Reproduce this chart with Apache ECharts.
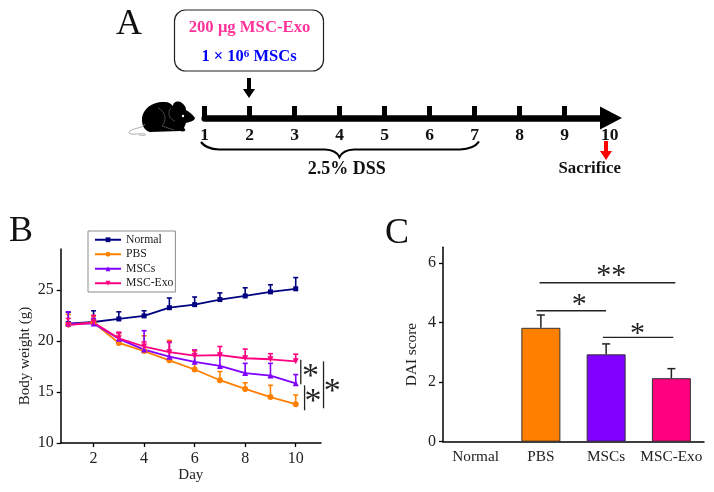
<!DOCTYPE html>
<html>
<head>
<meta charset="utf-8">
<style>
  html, body { margin: 0; padding: 0; background: #fff; }
  #chart { width: 714px; height: 492px; }
</style>
</head>
<body>
<div id="chart"></div>
<script src="https://cdn.jsdelivr.net/npm/echarts@6/dist/echarts.min.js"></script>
<script>
var serif = '"Liberation Serif", "Times New Roman", serif';

// panel A, timeline
var timelineDays = [1, 2, 3, 4, 5, 6, 7, 8, 9, 10];
var timelineTicks = [1, 2, 3, 4, 5, 6, 7, 8, 9];

// panel B, body weight
var days = [1, 2, 3, 4, 5, 6, 7, 8, 9, 10];
var groupNames = ['Normal', 'PBS', 'MSCs', 'MSC-Exo'];
var normalWeight = [21.7, 21.85, 22.15, 22.45, 23.25, 23.55, 24.05, 24.4, 24.8, 25.1];
var normalTop = [22.8, 22.95, 22.85, 22.95, 24.2, 24.3, 24.7, 25.2, 25.5, 26.2];
var pbsWeight = [21.6, 21.8, 19.8, 19.0, 18.1, 17.2, 16.15, 15.3, 14.5, 13.8];
var pbsTop = [22.6, 22.4, 20.7, 20.5, 20.05, 19.0, 17.0, 15.9, 15.65, 14.7];
var mscWeight = [21.7, 21.7, 20.2, 19.15, 18.45, 17.95, 17.55, 16.85, 16.6, 15.85];
var mscTop = [22.85, 22.2, 20.8, 21.0, 19.85, 19.1, 18.6, 17.8, 17.8, 16.7];
var exoWeight = [21.55, 21.8, 20.25, 19.45, 18.9, 18.55, 18.6, 18.3, 18.2, 18.0];
var exoTop = [22.2, 22.5, 20.85, 19.9, 19.9, 19.1, 19.45, 19.2, 18.75, 18.7];
var weightTicks = [10, 15, 20, 25];
var dayTicks = [2, 4, 6, 8, 10];

// significance marks of panel B, [x, y1, y2] and [x, y]
var weightBars = [[10.2, 18.15, 15.75], [10.35, 15.65, 13.2], [11.1, 18.0, 13.4]];
var weightStars = [[10.58, 18.1], [10.68, 15.7], [11.45, 16.7]];

// panel C, DAI score
var scoreGroups = ['Normal', 'PBS', 'MSCs', 'MSC-Exo'];
var scoreValues = [0, 3.82, 2.93, 2.13];
var scoreTop = [0, 4.25, 3.28, 2.45];
var scoreColors = ['#ffffff', '#ff8000', '#8000ff', '#ff0080'];
var scoreTicks = [0, 2, 4, 6];

// significance marks of panel C, [x1, x2, y] and [x, y, text]
var scoreBars = [[0.98, 3.06, 5.33], [0.93, 2.0, 4.39], [1.95, 3.03, 3.5]];
var scoreStars = [[2.08, 6.05, '**'], [1.59, 5.1, '*'], [2.48, 4.12, '*']];

// outlines of panel A that are no data, in page pixels
var mousePaths = [
  { d: 'M142 120 C142 108 154 101 165 102 C169 102 171 104 173 106 C173 102 178 100 182 103 C185 105 186 108 186 110 C190 112 193 115 195 118 C195 120 191 122 186 123 L184 128 C187 131 184 132 180 131 L150 132 C145 131 142 126 142 120 Z', fill: '#000' },
  { d: 'M171 108 C167 112 169 119 175 121 M158 108 C166 112 167 120 162 126 C166 127 170 129 174 130', stroke: '#777', width: 0.6 },
  { d: 'M145 124 C142 129 131 128 129 132 C128 136 140 133 145 134 C147 135 144 136 139 135', stroke: '#999', width: 0.8 }
];
var bracePath = 'M201 142 Q206 149 219 149.5 L325 149.5 Q336 150 339.5 157 Q343 150 354 149.5 L460 149.5 Q474 149 479 141.5';

function errorSeries(name, color, values, tops) {
  return {
    name: name + ' error',
    type: 'custom',
    xAxisIndex: 1,
    yAxisIndex: 1,
    z: 1,
    data: days.map(function(d, i) { return [d, values[i], tops[i]]; }),
    renderItem: function(params, api) {
      var low = api.coord([api.value(0), api.value(1)]);
      var high = api.coord([api.value(0), api.value(2)]);
      var style = { stroke: color, lineWidth: 1.6, fill: 'none' };
      return {
        type: 'group',
        children: [
          { type: 'line', shape: { x1: low[0], y1: low[1], x2: high[0], y2: high[1] }, style: style },
          { type: 'line', shape: { x1: high[0] - 2.5, y1: high[1], x2: high[0] + 2.5, y2: high[1] }, style: style }
        ]
      };
    }
  };
}

function lineSeries(name, color, symbol, values, size) {
  return {
    name: name,
    type: 'line',
    xAxisIndex: 1,
    yAxisIndex: 1,
    z: 3,
    color: color,
    symbol: symbol,
    symbolSize: size,
    symbolRotate: name === 'MSC-Exo' ? 180 : 0,
    lineStyle: { width: 1.8, color: color },
    itemStyle: { color: color },
    data: days.map(function(d, i) { return [d, values[i]]; })
  };
}

var chart = echarts.init(document.getElementById('chart'), null, { renderer: 'canvas' });

chart.setOption({
  animation: false,
  backgroundColor: '#fff',
  textStyle: { fontFamily: serif },
  grid: [
    { left: 204.7, top: 100, width: 406.3, height: 18 },
    { left: 60.7, top: 249, width: 260.3, height: 194 },
    { left: 443, top: 247.3, width: 261, height: 194.4 }
  ],
  legend: {
    data: groupNames,
    orient: 'vertical',
    left: 88,
    top: 231,
    padding: [2, 2, 2, 6],
    itemGap: 1,
    itemWidth: 26,
    itemHeight: 6,
    borderColor: '#8c8c8c',
    borderWidth: 1,
    textStyle: { fontFamily: serif, fontSize: 11.7, color: '#222', lineHeight: 13.5 }
  },
  xAxis: [
    {
      gridIndex: 0,
      type: 'value',
      min: 1,
      max: 10.03,
      position: 'bottom',
      splitLine: { show: false },
      axisLine: {
        onZero: false,
        symbol: ['none', 'triangle'],
        symbolSize: [23, 22],
        lineStyle: { color: '#000', width: 6.5 }
      },
      axisTick: {
        inside: true,
        length: 12,
        customValues: timelineTicks,
        lineStyle: { color: '#000', width: 5 }
      },
      axisLabel: {
        customValues: timelineDays,
        formatter: '{value}',
        margin: 8,
        color: '#111',
        fontFamily: serif,
        fontWeight: 'bold',
        fontSize: 17.5
      }
    },
    {
      gridIndex: 1,
      type: 'value',
      min: 0.7,
      max: 11,
      name: 'Day',
      nameLocation: 'middle',
      nameGap: 25,
      nameTextStyle: { fontFamily: serif, fontSize: 15, color: '#222' },
      splitLine: { show: false },
      axisLine: { onZero: false, lineStyle: { color: '#000', width: 1.5 } },
      axisTick: { length: 4, customValues: dayTicks, lineStyle: { color: '#000', width: 1.3 } },
      axisLabel: { customValues: dayTicks, margin: 8, color: '#222', fontFamily: serif, fontSize: 16 }
    },
    {
      gridIndex: 2,
      type: 'category',
      data: scoreGroups,
      splitLine: { show: false },
      axisLine: { onZero: false, lineStyle: { color: '#000', width: 1.5 } },
      axisTick: { alignWithLabel: true, length: 4, lineStyle: { color: '#000', width: 1.3 } },
      axisLabel: { interval: 0, margin: 8, color: '#222', fontFamily: serif, fontSize: 15.3 }
    },
    {
      // keeps the brackets of panel C in category units
      gridIndex: 2,
      type: 'value',
      min: -0.5,
      max: 3.5,
      show: false
    }
  ],
  yAxis: [
    { gridIndex: 0, type: 'value', min: 0, max: 1, show: false },
    {
      gridIndex: 1,
      type: 'value',
      min: 10,
      max: 29,
      name: 'Body weight (g)',
      nameLocation: 'middle',
      nameGap: 28,
      nameMoveOverlap: false,
      nameTextStyle: { fontFamily: serif, fontSize: 15, color: '#222', padding: [0, 20, 0, 0] },
      splitLine: { show: false },
      axisLine: { show: true, onZero: false, lineStyle: { color: '#000', width: 1.5 } },
      axisTick: { show: true, length: 4, customValues: weightTicks, lineStyle: { color: '#000', width: 1.3 } },
      axisLabel: { customValues: weightTicks, margin: 7, color: '#222', fontFamily: serif, fontSize: 16, hideOverlap: false }
    },
    {
      gridIndex: 2,
      type: 'value',
      min: 0,
      max: 6.52,
      name: 'DAI score',
      nameLocation: 'middle',
      nameGap: 24,
      nameMoveOverlap: false,
      nameTextStyle: { fontFamily: serif, fontSize: 15.3, color: '#222', padding: [0, 20, 0, 0] },
      splitLine: { show: false },
      axisLine: { show: true, onZero: false, lineStyle: { color: '#000', width: 1.5 } },
      axisTick: { show: true, length: 4, customValues: scoreTicks, lineStyle: { color: '#000', width: 1.3 } },
      axisLabel: { customValues: scoreTicks, margin: 7, color: '#222', fontFamily: serif, fontSize: 16 }
    }
  ],
  series: [
    errorSeries('Normal', '#000080', normalWeight, normalTop),
    errorSeries('PBS', '#ff8000', pbsWeight, pbsTop),
    errorSeries('MSCs', '#8000ff', mscWeight, mscTop),
    errorSeries('MSC-Exo', '#ff0080', exoWeight, exoTop),
    lineSeries('Normal', '#000080', 'rect', normalWeight, 5),
    lineSeries('PBS', '#ff8000', 'circle', pbsWeight, 6),
    lineSeries('MSCs', '#8000ff', 'triangle', mscWeight, 6),
    lineSeries('MSC-Exo', '#ff0080', 'triangle', exoWeight, 6),
    {
      name: 'weight bars',
      type: 'custom',
      xAxisIndex: 1,
      yAxisIndex: 1,
      clip: false,
      data: weightBars,
      renderItem: function(params, api) {
        var a = api.coord([api.value(0), api.value(1)]);
        var b = api.coord([api.value(0), api.value(2)]);
        return { type: 'line', shape: { x1: a[0], y1: a[1], x2: b[0], y2: b[1] }, style: { stroke: '#222', lineWidth: 1.3 } };
      }
    },
    {
      name: 'weight stars',
      type: 'custom',
      xAxisIndex: 1,
      yAxisIndex: 1,
      clip: false,
      data: weightStars,
      renderItem: function(params, api) {
        var p = api.coord([api.value(0), api.value(1)]);
        return { type: 'text', x: p[0], y: p[1], style: { text: '*', font: '34px ' + serif, fill: '#222', align: 'center', verticalAlign: 'top' } };
      }
    },
    {
      name: 'score',
      type: 'bar',
      xAxisIndex: 2,
      yAxisIndex: 2,
      barWidth: 39,
      z: 2,
      data: scoreValues.map(function(v, i) {
        return { value: v, itemStyle: { color: scoreColors[i], borderColor: '#333', borderWidth: v ? 1 : 0 } };
      })
    },
    {
      name: 'score error',
      type: 'custom',
      xAxisIndex: 3,
      yAxisIndex: 2,
      z: 1,
      data: scoreTop.map(function(t, i) { return [i, scoreValues[i], t]; }),
      renderItem: function(params, api) {
        if (!api.value(2)) return null;
        var low = api.coord([api.value(0), api.value(1)]);
        var high = api.coord([api.value(0), api.value(2)]);
        var style = { stroke: '#222', lineWidth: 1.5, fill: 'none' };
        return {
          type: 'group',
          children: [
            { type: 'line', shape: { x1: low[0], y1: low[1], x2: high[0], y2: high[1] }, style: style },
            { type: 'line', shape: { x1: high[0] - 4, y1: high[1], x2: high[0] + 4, y2: high[1] }, style: style }
          ]
        };
      }
    },
    {
      name: 'score bars',
      type: 'custom',
      xAxisIndex: 3,
      yAxisIndex: 2,
      clip: false,
      data: scoreBars,
      renderItem: function(params, api) {
        var a = api.coord([api.value(0), api.value(2)]);
        var b = api.coord([api.value(1), api.value(2)]);
        return { type: 'line', shape: { x1: a[0], y1: a[1], x2: b[0], y2: b[1] }, style: { stroke: '#222', lineWidth: 1.4 } };
      }
    },
    {
      name: 'score stars',
      type: 'custom',
      xAxisIndex: 3,
      yAxisIndex: 2,
      clip: false,
      data: scoreStars,
      renderItem: function(params, api) {
        var p = api.coord([api.value(0), api.value(1)]);
        return { type: 'text', x: p[0], y: p[1], style: { text: scoreStars[params.dataIndex][2], font: '30px ' + serif, fill: '#222', align: 'center', verticalAlign: 'top' } };
      }
    },
    {
      name: 'outlines',
      type: 'custom',
      coordinateSystem: 'none',
      silent: true,
      data: [0],
      renderItem: function() {
        var children = mousePaths.map(function(p) {
          return {
            type: 'path',
            shape: { pathData: p.d },
            style: { fill: p.fill || 'none', stroke: p.stroke || 'none', lineWidth: p.width || 0 }
          };
        });
        children.push({ type: 'circle', shape: { cx: 183, cy: 116, r: 1.2 }, style: { fill: '#fff' } });
        children.push({
          type: 'path',
          shape: { pathData: bracePath },
          style: { fill: 'none', stroke: '#000', lineWidth: 2.2 }
        });
        return { type: 'group', children: children };
      }
    }
  ],
  graphic: [
    { type: 'text', x: 116, y: 7, style: { text: 'A', font: '36px ' + serif, fill: '#111' } },
    { type: 'text', x: 9, y: 214, style: { text: 'B', font: '36px ' + serif, fill: '#111' } },
    { type: 'text', x: 385, y: 216, style: { text: 'C', font: '36px ' + serif, fill: '#111' } },

    // dose box
    { type: 'rect', shape: { x: 174.5, y: 10, width: 149, height: 61, r: 11 }, style: { fill: '#fff', stroke: '#222', lineWidth: 1.2 } },
    { type: 'text', x: 249.5, y: 28, style: { text: '200 μg MSC-Exo', font: 'bold 16.7px ' + serif, fill: '#ff3399', align: 'center', verticalAlign: 'middle' } },
    {
      type: 'text', x: 249, y: 57,
      style: {
        text: '{n|1 × 10}{s|6}{n| MSCs}',
        align: 'center',
        verticalAlign: 'middle',
        rich: {
          n: { font: 'bold 16.5px ' + serif, fill: '#0000ff' },
          s: { font: 'bold 11px ' + serif, fill: '#0000ff', verticalAlign: 'top' }
        }
      }
    },

    // dose and sacrifice arrows
    { type: 'polygon', shape: { points: [[247, 78], [251, 78], [251, 89], [255, 89], [249, 98], [243, 89], [247, 89]] }, style: { fill: '#000' } },
    { type: 'polygon', shape: { points: [[604, 141], [608, 141], [608, 151], [612, 151], [606, 160], [600, 151], [604, 151]] }, style: { fill: '#ff0000' } },
    { type: 'text', x: 589.7, y: 169, style: { text: 'Sacrifice', font: 'bold 16.8px ' + serif, fill: '#111', align: 'center', verticalAlign: 'middle' } },
    { type: 'text', x: 346.7, y: 169, style: { text: '2.5% DSS', font: 'bold 18px ' + serif, fill: '#111', align: 'center', verticalAlign: 'middle' } }
  ]
});
</script>
</body>
</html>
